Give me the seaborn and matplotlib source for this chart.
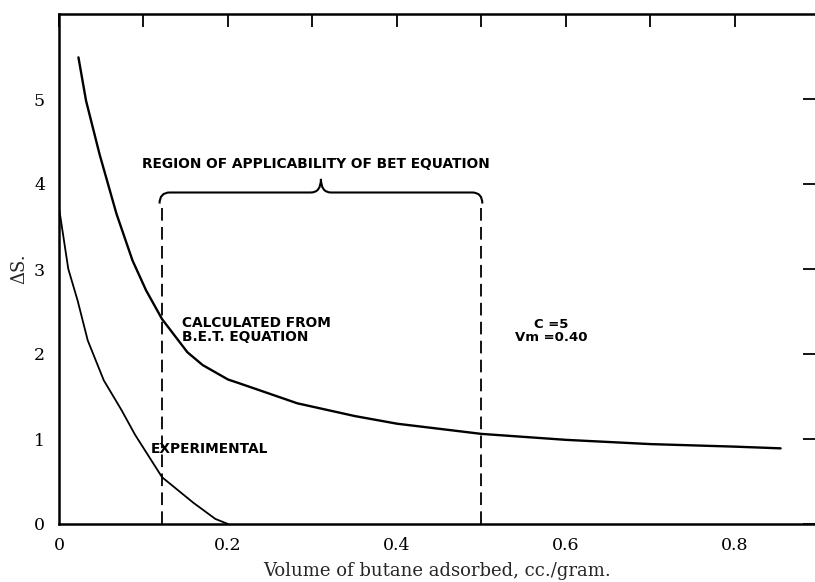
import numpy as np
import pandas as pd
import matplotlib
matplotlib.use("Agg")
import matplotlib.pyplot as plt
from matplotlib.path import Path
from matplotlib.patches import PathPatch
import seaborn as sns

sns.set_style("white")
plt.rcParams['font.family'] = ['DejaVu Serif']

# values
bet_x = [0.023, 0.032, 0.048, 0.068, 0.087, 0.103, 0.122, 0.152, 0.170,
         0.200, 0.212, 0.250, 0.282, 0.350, 0.400, 0.500, 0.600, 0.700,
         0.800, 0.854]
bet_y = [5.49, 4.98, 4.35, 3.65, 3.10, 2.75, 2.41, 2.02, 1.87,
         1.70, 1.66, 1.53, 1.42, 1.27, 1.18, 1.06, 0.99, 0.94,
         0.91, 0.89]

exp_x = [0.0, 0.011, 0.022, 0.034, 0.053, 0.074, 0.090, 0.122, 0.159, 0.185, 0.200]
exp_y = [3.72, 3.00, 2.63, 2.16, 1.69, 1.34, 1.05, 0.55, 0.25, 0.06, 0.0]

region_bounds = [0.122, 0.50]
region_top = 3.77
brace_y = 3.90
brace_tip = 4.06

x_ticks = [0.0, 0.1, 0.2, 0.3, 0.4, 0.5, 0.6, 0.7, 0.8]
x_labels = ["0", "", "0.2", "", "0.4", "", "0.6", "", "0.8"]
y_ticks = [0, 1, 2, 3, 4, 5]

df_bet = pd.DataFrame({"v": bet_x, "dS": bet_y})
df_exp = pd.DataFrame({"v": exp_x, "dS": exp_y})

fig = plt.figure(figsize=(8.15, 5.82), dpi=100)
ax = fig.add_axes([59 / 815, 58 / 582, 756 / 815, 510 / 582])

sns.lineplot(data=df_bet, x="v", y="dS", color="black", lw=1.7, ax=ax)
sns.lineplot(data=df_exp, x="v", y="dS", color="black", lw=1.3, ax=ax)

# region boundaries
ax.vlines(region_bounds, 0, region_top - 0.03, colors="black", lw=1.3,
          linestyles=(0, (7, 3.5)))

# curly brace over the region
x0, x1 = region_bounds[0] - 0.003, region_bounds[1] + 0.001
xm = (x0 + x1) / 2
r = 0.012
verts = [(x0, region_top), (x0, brace_y), (x0 + r, brace_y),
         (xm - r, brace_y), (xm, brace_y), (xm, brace_tip),
         (xm, brace_y), (xm + r, brace_y),
         (x1 - r, brace_y), (x1, brace_y), (x1, region_top)]
codes = [Path.MOVETO, Path.CURVE3, Path.CURVE3,
         Path.LINETO, Path.CURVE3, Path.CURVE3,
         Path.CURVE3, Path.CURVE3,
         Path.LINETO, Path.CURVE3, Path.CURVE3]
ax.add_patch(PathPatch(Path(verts, codes), fill=False, lw=1.5, ec="black"))

lab = dict(family="DejaVu Sans", fontweight="bold", fontsize=9.9, color="black")
ax.text(0.098, 4.24, "REGION OF APPLICABILITY OF BET EQUATION", va="center", **lab)
ax.text(0.146, 2.28, "CALCULATED FROM\nB.E.T. EQUATION", va="center",
        linespacing=0.95, **lab)
ax.text(0.109, 0.88, "EXPERIMENTAL", va="center", **lab)
ax.text(0.582, 2.27, "C =5\nVm =0.40", va="center", ha="center",
        linespacing=0.95, **{**lab, "fontsize": 9.5})

ax.set_xlim(0, 0.8947)
ax.set_ylim(0, 6.0)
ax.set_xticks(x_ticks)
ax.set_xticklabels(x_labels)
ax.set_yticks(y_ticks)
ax.set_yticklabels([str(v) for v in y_ticks])
ax.tick_params(axis="both", direction="in", length=9.5, width=1.3,
               labelsize=12.5, colors="black")
ax.tick_params(axis="x", top=True, pad=9)
ax.tick_params(axis="y", right=True, pad=10)
ax.tick_params(axis="y", which="major", length=9)

for side in ["left", "bottom", "top"]:
    ax.spines[side].set_linewidth(1.8)
    ax.spines[side].set_color("black")
ax.spines["right"].set_visible(False)

ax.set_xlabel("Volume of butane adsorbed, cc./gram.", fontsize=13, labelpad=6)
ax.set_ylabel("ΔS.", fontsize=13, labelpad=4)
ax.grid(False)

fig.savefig("out.png", dpi=100)
